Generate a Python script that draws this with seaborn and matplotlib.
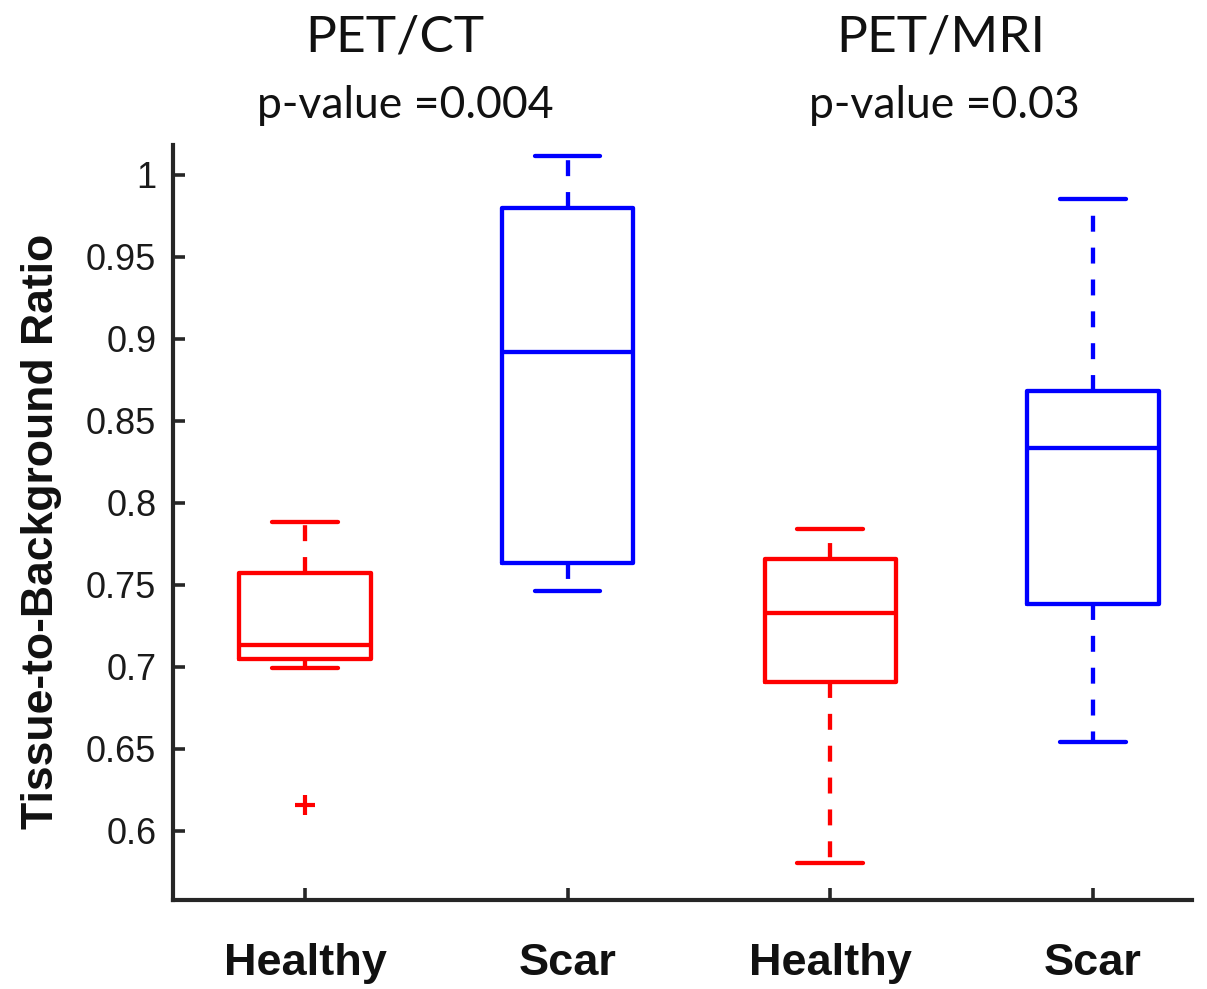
import numpy as np
import pandas as pd
import matplotlib
matplotlib.use("Agg")
import matplotlib.pyplot as plt
import seaborn as sns

# ---- data ----
modalities = ["PET/CT", "PET/CT", "PET/MRI", "PET/MRI"]
tissues = ["Healthy", "Scar", "Healthy", "Scar"]
whisker_low = [0.6994, 0.7465, 0.5803, 0.6538]
q1 = [0.7049, 0.7632, 0.6904, 0.7384]
median = [0.7134, 0.8919, 0.7327, 0.8333]
q3 = [0.7573, 0.9797, 0.7657, 0.8685]
whisker_high = [0.7886, 1.0118, 0.7840, 0.9852]
outliers = [[0.6159], [], [], []]
p_values = ["p-value =0.004", "p-value =0.03"]
modality_titles = ["PET/CT", "PET/MRI"]
y_ticks = [0.6, 0.65, 0.7, 0.75, 0.8, 0.85, 0.9, 0.95, 1.0]
palette = {"Healthy": "#ff0000", "Scar": "#0000ff"}


def sample_for(i):
    k = len(outliers[i])
    r = 1 + k
    return (list(outliers[i]) + [whisker_low[i]] + [q1[i]] * r + [median[i]]
            + [q3[i]] * r + [whisker_high[i]] * r)


rows = []
for i in range(len(tissues)):
    for v in sample_for(i):
        rows.append({"group": i, "tissue": tissues[i], "value": v})
df = pd.DataFrame(rows)

sns.set_theme(style="white")
plt.rcParams["font.family"] = ["Liberation Sans", "DejaVu Sans"]

W, H = 1207, 989
fig = plt.figure(figsize=(W / 100, H / 100), dpi=100)
ax = fig.add_axes([173 / W, 1 - 900 / H, 1019 / W, 755 / H])

sns.boxplot(
    data=df, x="group", y="value", hue="tissue", order=[0, 1, 2, 3],
    palette=palette, dodge=False, fill=False, width=0.5, linewidth=3.1,
    whis=1.5, legend=False, ax=ax,
    whiskerprops={"linestyle": (0, (3.7, 3.7))},
    flierprops={"marker": "+", "markersize": 14, "markeredgewidth": 3},
)

ax.set_xlim(-0.5025, 3.377)
ax.set_ylim(0.5577, 1.0183)
ax.set_yticks(y_ticks)
ax.set_yticklabels([f"{t:g}" for t in y_ticks])
ax.set_xticks(range(len(tissues)))
ax.set_xticklabels(tissues, fontsize=32.5, fontweight="bold", color="#111111")
ax.set_xlabel("")
ax.set_ylabel("Tissue-to-Background Ratio", fontsize=32, fontweight="bold", color="#111111")
ax.yaxis.label.set_va("center")
ax.yaxis.set_label_coords((42 - 173) / 1019, (900 - 531) / 755)

for side in ["top", "right"]:
    ax.spines[side].set_visible(False)
for side in ["left", "bottom"]:
    ax.spines[side].set_color("#262626")
    ax.spines[side].set_linewidth(3)
ax.tick_params(axis="y", direction="in", length=8.5, width=2.6, color="#262626",
               labelsize=26, pad=12, left=True, labelcolor="#1a1a1a")
ax.tick_params(axis="x", direction="in", length=8.5, width=2.6, color="#262626",
               pad=31, bottom=True)

title_x = [395, 941]
pval_x = [405, 944]
for tx, px, t, p in zip(title_x, pval_x, modality_titles, p_values):
    fig.text(tx / W, 1 - 52 / H, t, ha="center", va="baseline", fontsize=37,
             family=["Lato", "DejaVu Sans"], color="#111111")
    fig.text(px / W, 1 - 118 / H, p, ha="center", va="baseline", fontsize=32,
             family=["Lato", "DejaVu Sans"], color="#111111")

fig.savefig("out.png", dpi=100)
